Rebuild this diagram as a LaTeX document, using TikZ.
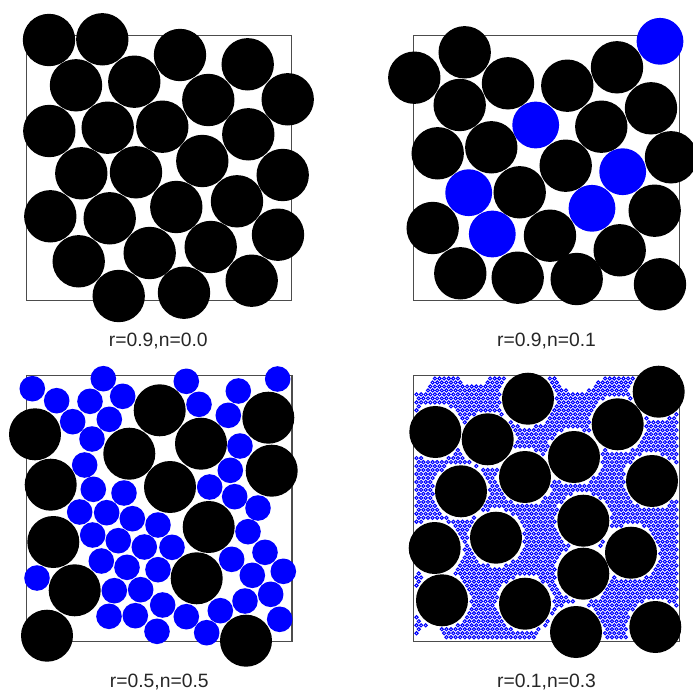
\documentclass[tikz,border=0pt]{standalone}
\usepackage{fontspec}
\setmainfont{Liberation Sans}

% free place for a small ring in panel D (units of 0.1 px)
\newif\ifringok
\newcommand\ringtest[5]{\ifnum\numexpr(#1-#3)*(#1-#3)+(#2-#4)*(#2-#4)\relax<#5 \ringokfalse\fi}
\newcommand\ringcheck[2]{\ringoktrue
  \ringtest{#1}{#2}{5280}{3987}{81225}\ringtest{#1}{#2}{6587}{3917}{81225}%
  \ringtest{#1}{#2}{4353}{4320}{81225}\ringtest{#1}{#2}{4877}{4393}{81225}%
  \ringtest{#1}{#2}{6177}{4243}{81225}\ringtest{#1}{#2}{5740}{4570}{81225}%
  \ringtest{#1}{#2}{5250}{4770}{81225}\ringtest{#1}{#2}{6520}{4810}{81225}%
  \ringtest{#1}{#2}{4610}{4913}{81225}\ringtest{#1}{#2}{5833}{5207}{81225}%
  \ringtest{#1}{#2}{4960}{5377}{81225}\ringtest{#1}{#2}{4347}{5480}{81225}%
  \ringtest{#1}{#2}{6310}{5527}{81225}\ringtest{#1}{#2}{5833}{5737}{81225}%
  \ringtest{#1}{#2}{4420}{6003}{81225}\ringtest{#1}{#2}{5250}{6037}{81225}%
  \ringtest{#1}{#2}{5760}{6320}{81225}\ringtest{#1}{#2}{6553}{6270}{81225}%
  \ringtest{#1}{#2}{4120}{3740}{40000}\ringtest{#1}{#2}{4740}{3660}{40000}%
  \ringtest{#1}{#2}{5780}{3660}{67600}\ringtest{#1}{#2}{4300}{6420}{25600}%
  \ringtest{#1}{#2}{5480}{6400}{14400}}

\begin{document}
\begin{tikzpicture}[x=0.5pt, y=-0.5pt,
    % Define styles
    frame/.style={draw=black!70, line width=0.6pt, minimum width=132.75pt, minimum height=132.75pt, inner sep=0pt},
    caption/.style={anchor=base, text=black!85, font=\fontsize{9.65}{12}\selectfont},
    grain/.style={fill=black},
    blob/.style={fill=blue},
    ring/.style={draw=blue, line width=0.5pt}
    ]
    \useasboundingbox (0,0) rectangle (693,691);

    % 1. Frames and captions
    \node[frame] (boxA) at (159,168) {};
    \node[frame] (boxB) at (546.5,168) {};
    \node[frame] (boxC) at (159.3,508.5) {};
    \node[frame] (boxD) at (546.5,508.5) {};
    \node[caption] (capA) at (158.3,346.7) {r=0.9,n=0.0};
    \node[caption] (capB) at (546.5,346.7) {r=0.9,n=0.1};
    \node[caption] (capC) at (159.3,687.5) {r=0.5,n=0.5};
    \node[caption] (capD) at (546.5,687.5) {r=0.1,n=0.3};

    % 2. Panel A: grains only
    \foreach \x/\y in {49/40, 102.3/39.3, 180/55, 247.7/64.3, 76/85.3, 134.3/81.7, 208.3/100,
        287.7/99.3, 49.3/131, 107.7/127.7, 162.3/126.7, 248.3/134.3, 81.3/173.3, 136/172.3,
        202.3/161, 282.7/175, 50.3/216.3, 109.7/218.3, 176.3/207, 237/201.3, 278/234.7,
        78.7/261.3, 149.7/253, 210.7/247, 251.7/280.7, 118.7/296, 184/292.7}
      \fill[grain] (\x,\y) circle[radius=26.2];

    % 3. Panel B: grains and a few blobs
    \foreach \x/\y in {464.7/52.3, 414.3/77.7, 508/83.3, 567.3/85.7, 617/67.3, 459.7/105,
        651/108.3, 601.3/126.7, 437.7/153.3, 491.3/147.3, 565.7/165.7, 671/157.3, 519.7/192.3,
        432.7/228, 550/235.7, 654.7/210.7, 619.7/250.3, 460.3/273.3, 517.7/277.7, 576.7/279,
        660/284.3}
      \fill[grain] (\x,\y) circle[radius=26.2];
    \foreach \x/\y in {660/41.3, 535.7/125, 622.7/171.7, 468.7/192.7, 592/208.3, 492.3/234}
      \fill[blob] (\x,\y) circle[radius=23.4];

    % 4. Panel C: grains in a crowd of smaller blobs
    \foreach \x/\y in {32.3/388.7, 56.7/400.7, 103.3/378.7, 90/401.3, 122.7/396.3, 72.7/421.7,
        109.3/419.3, 186.3/381.3, 199/404.3, 238.3/391, 277.7/379, 228.3/415.3, 92/439,
        240/446, 84.7/465, 230.3/470.3, 209.7/487, 93.3/489.3, 124/493, 234.7/496.7,
        79.7/512, 106.7/512.7, 132.3/518.7, 258/508, 158/525, 92.7/535, 118.3/540.7,
        144.3/547, 172/547.3, 248/531.7, 101.3/561, 127/567.3, 158/569.7, 231.7/559.3,
        265/552.3, 37/578, 252.3/575.3, 283.3/571.3, 114.3/590.7, 140.7/589.7, 162.7/605,
        245/601, 270.7/594.3, 109/616.3, 135.3/615.7, 186.3/616.7, 220.3/610.7, 157/631.3,
        206.7/632.7, 279.7/619.3}
      \fill[blob] (\x,\y) circle[radius=12.8];
    \foreach \x/\y in {35/434.3, 159.7/410.3, 268.3/417.7, 129.3/453.7, 201/443.7, 271.7/470.7,
        50.7/484.7, 170/487, 53.3/542, 208.7/527, 74.7/590.3, 196.7/578.3, 47/635.7, 246/640.7}
      \fill[grain] (\x,\y) circle[radius=26];

    % 5. Panel D: packed small rings, then the grains
    \foreach \j in {0,...,65}{
      \ifodd\j \def\gshift{23}\else\def\gshift{0}\fi
      \foreach \i in {0,...,56}{
        \edef\gx{\the\numexpr4165+46*\i+\gshift\relax}
        \edef\gy{\the\numexpr3785+398*\j/10\relax}
        \ringcheck{\gx}{\gy}
        \ifringok \draw[ring] (\gx/10,\gy/10) circle[radius=1.6]; \fi
      }
    }
    \foreach \x/\y in {528/398.7, 658.7/391.7, 435.3/432, 487.7/439.3, 617.7/424.3, 574/457,
        525/477, 652/481, 461/491.3, 583.3/520.7, 496/537.7, 434.7/548, 631/552.7,
        583.3/573.7, 442/600.3, 525/603.7, 576/632, 655.3/627}
      \fill[grain] (\x,\y) circle[radius=26];

\end{tikzpicture}
\end{document}
